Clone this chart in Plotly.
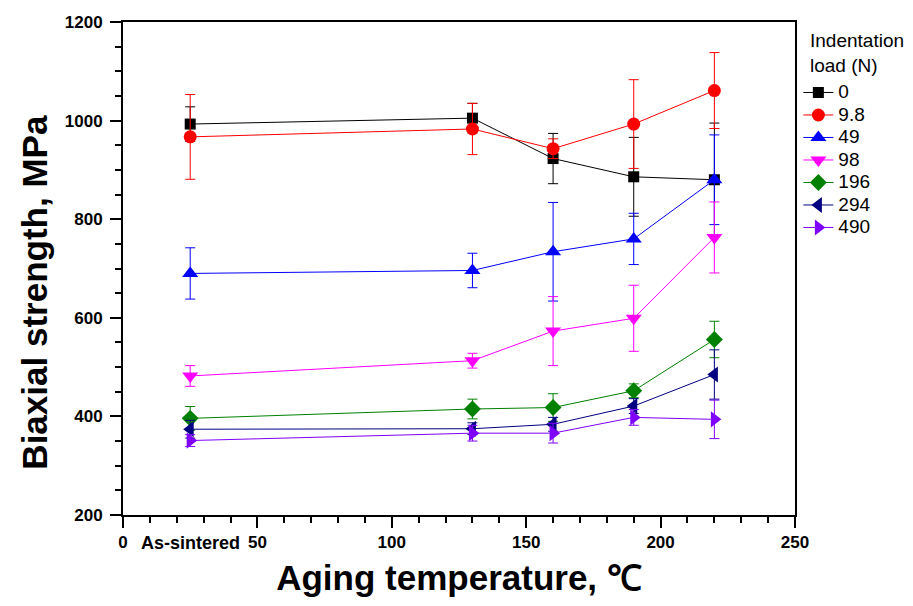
import plotly.graph_objects as go

temps = [25, 130, 160, 190, 220]
loads = ["0", "9.8", "49", "98", "196", "294", "490"]
strength = {
    "0":   [993, 1005, 923, 886, 880],
    "9.8": [967, 983, 943, 993, 1061],
    "49":  [690, 696, 734, 760, 880],
    "98":  [482, 513, 573, 599, 763],
    "196": [396, 415, 418, 452, 556],
    "294": [374, 375, 384, 421, 485],
    "490": [351, 366, 366, 398, 394],
}
errors = {
    "0":   [35, 30, 51, 80, 115],
    "9.8": [86, 52, 20, 90, 77],
    "49":  [52, 35, 100, 52, 91],
    "98":  [21, 15, 70, 67, 72],
    "196": [24, 20, 28, 14, 37],
    "294": [18, 12, 14, 15, 50],
    "490": [12, 16, 20, 16, 39],
}
colors = ["#000000", "#FF0000", "#0000FF", "#FF00FF", "#008000", "#000080", "#7F00FF"]
symbols = ["square", "circle", "triangle-up", "triangle-down", "diamond", "triangle-left", "triangle-right"]
sizes = [11, 13, 14, 14, 13, 14, 14]

FONT = "Arial, Liberation Sans"

fig = go.Figure()
for load, c, s, sz in zip(loads, colors, symbols, sizes):
    fig.add_trace(go.Scatter(
        x=temps, y=strength[load],
        name=f"<span style='font-size:19px'>{load}</span>",
        mode="lines+markers",
        line=dict(color=c, width=1),
        marker=dict(symbol=s, size=sz, color=c),
        error_y=dict(type="data", array=errors[load], visible=True,
                     color=c, thickness=1, width=5),
    ))

axis_common = dict(
    showline=True, linecolor="black", linewidth=2, mirror=True,
    ticks="outside", ticklen=11, tickwidth=2, tickcolor="black",
    showgrid=False, zeroline=False,
    tickfont=dict(family=FONT, size=17, color="black", weight="bold"),
)

fig.update_xaxes(
    range=[0, 250], tickvals=[0, 50, 100, 150, 200, 250],
    minor=dict(dtick=10, ticks="outside", ticklen=6, tickwidth=2, tickcolor="black"),
    title=dict(text="Aging temperature, <span style='font-family:Liberation Serif'>℃</span>",
               font=dict(family=FONT, size=35, color="black", weight="bold"),
               standoff=14),
    **axis_common,
)
fig.update_yaxes(
    range=[200, 1200], tickvals=[200, 400, 600, 800, 1000, 1200],
    minor=dict(dtick=50, ticks="outside", ticklen=6, tickwidth=2, tickcolor="black"),
    ticklabelstandoff=4,
    **axis_common,
)

# y-axis title (placed slightly below the plot centre, as in the original)
fig.add_annotation(x=-0.131, xref="paper", xanchor="center", y=0.453, yref="paper",
                   yanchor="middle", textangle=-90, showarrow=False,
                   text="<b>Biaxial strength, MPa</b>",
                   font=dict(family=FONT, size=35, color="black"))

fig.add_annotation(x=25, y=0, xref="x", yref="paper", yshift=-16, yanchor="top",
                   text="<b>As-sintered</b>", showarrow=False,
                   font=dict(family=FONT, size=18, color="black"))

fig.add_annotation(x=1.02, xref="paper", xanchor="left", y=1.0, yref="paper", yanchor="top",
                   yshift=-6, align="left", showarrow=False,
                   text="Indentation<br>load (N)",
                   font=dict(family=FONT, size=19, color="black"))

fig.update_layout(
    width=913, height=606,
    margin=dict(l=123, r=118, t=22, b=91),
    plot_bgcolor="white", paper_bgcolor="white",
    legend=dict(
        font=dict(family=FONT, size=15, color="black"),
        x=1.005, xanchor="left", y=0.89, yanchor="top",
        bgcolor="rgba(0,0,0,0)", itemwidth=30, tracegroupgap=0,
    ),
)

fig.write_html("out.html")
